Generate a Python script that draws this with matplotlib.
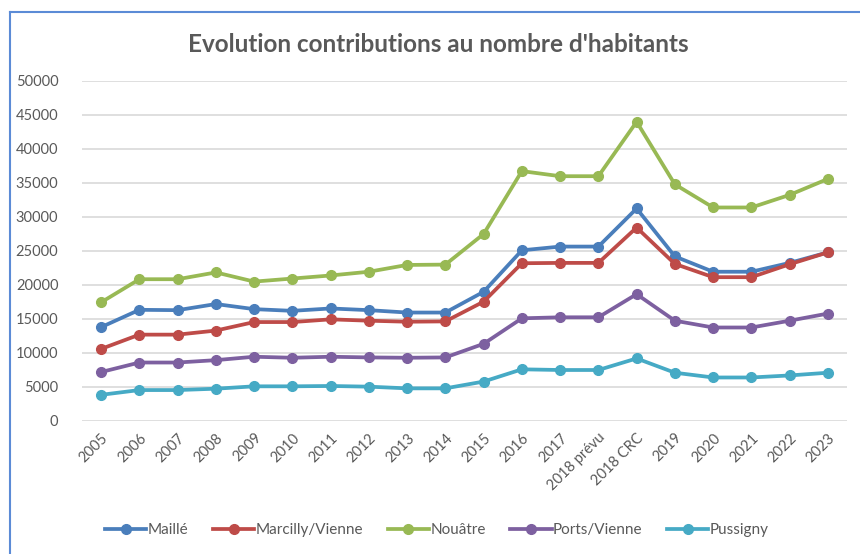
import matplotlib
matplotlib.use('Agg')
import matplotlib.pyplot as plt
from matplotlib.lines import Line2D

plt.rcParams['font.family'] = ['Lato', 'DejaVu Sans']

years = ['2005', '2006', '2007', '2008', '2009', '2010', '2011', '2012', '2013',
         '2014', '2015', '2016', '2017', '2018 prévu', '2018 CRC', '2019', '2020',
         '2021', '2022', '2023']

maille = [13800, 16350, 16300, 17200, 16450, 16200, 16550, 16300, 15950, 15950,
          19000, 25100, 25650, 25650, 31250, 24200, 21950, 21950, 23250, 24800]
marcilly = [10600, 12700, 12700, 13300, 14550, 14550, 14950, 14750, 14600, 14650,
            17550, 23200, 23250, 23250, 28450, 23100, 21150, 21150, 23050, 24800]
nouatre = [17450, 20850, 20850, 21850, 20500, 20950, 21400, 21950, 22950, 23000,
           27500, 36750, 36000, 36000, 44000, 34800, 31400, 31400, 33250, 35600]
ports = [7200, 8600, 8600, 8950, 9450, 9300, 9450, 9350, 9300, 9350,
         11350, 15100, 15250, 15250, 18650, 14750, 13750, 13750, 14750, 15800]
pussigny = [3850, 4550, 4550, 4750, 5100, 5100, 5150, 5050, 4800, 4800,
            5800, 7600, 7500, 7500, 9200, 7100, 6400, 6400, 6700, 7100]

series = [('Maillé', maille, '#4A7EBB'),
          ('Marcilly/Vienne', marcilly, '#BE4B48'),
          ('Nouâtre', nouatre, '#98B954'),
          ('Ports/Vienne', ports, '#7D60A0'),
          ('Pussigny', pussigny, '#46AAC5')]

fig = plt.figure(figsize=(8.6, 5.54), dpi=100)
ax = fig.add_axes([82 / 860, 1 - 421 / 554, (847 - 82) / 860, (421 - 81) / 554])

x = range(len(years))
for name, vals, col in series:
    ax.plot(x, vals, color=col, linewidth=2.7, marker='o', markersize=7,
            label=name, solid_capstyle='round')

ax.set_xlim(-0.5, len(years) - 0.5)
ax.set_ylim(0, 50000)
ax.set_yticks(range(0, 50001, 5000))
ax.set_xticks(list(x))
ax.set_xticklabels(years, rotation=45, ha='right', va='top', rotation_mode='anchor')
ax.tick_params(axis='both', length=0, labelsize=10.5, colors='#595959')
ax.tick_params(axis='y', pad=17)
ax.tick_params(axis='x', pad=7)
ax.grid(axis='y', color='#D9D9D9', linewidth=1.2)
ax.set_axisbelow(True)
for s in ax.spines.values():
    s.set_visible(False)

fig.text(438 / 860, 1 - 45 / 554, "Evolution contributions au nombre d'habitants",
         ha='center', va='center', fontsize=17.5, fontweight='bold', color='#595959')

handles = [Line2D([0], [0], color=c, linewidth=2.7, marker='o', markersize=7)
           for _, _, c in series]
fig.legend(handles, [n for n, _, _ in series], loc='center',
           bbox_to_anchor=(437 / 860, 1 - 530 / 554), ncol=5, frameon=False,
           fontsize=11, handlelength=2.7, columnspacing=1.6, handletextpad=0.1,
           labelcolor='#595959')

# chart frame (top and left edges visible)
fig.add_artist(Line2D([10 / 860, 1], [1 - 12 / 554, 1 - 12 / 554], color='#5B8BD6',
                      linewidth=1.5, transform=fig.transFigure))
fig.add_artist(Line2D([10 / 860, 10 / 860], [0, 1 - 12 / 554], color='#5B8BD6',
                      linewidth=1.5, transform=fig.transFigure))

fig.savefig('out.png', dpi=100)
